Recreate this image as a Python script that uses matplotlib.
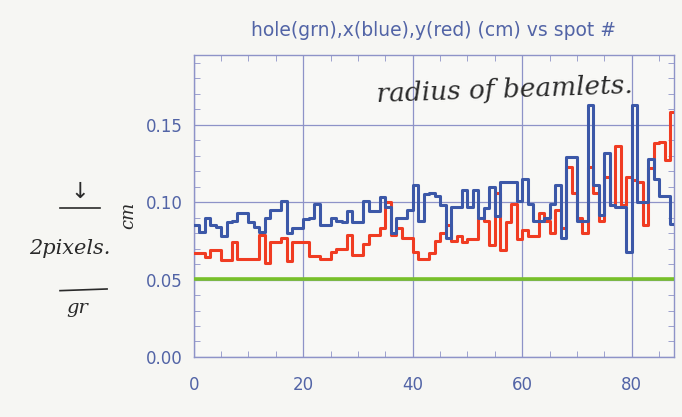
import matplotlib
matplotlib.use("Agg")
import matplotlib.pyplot as plt
import numpy as np
from matplotlib.ticker import MultipleLocator

title = "hole(grn),x(blue),y(red) (cm) vs spot #"
x_ticks = [0, 20, 40, 60, 80]
y_ticks = [0.00, 0.05, 0.10, 0.15]
y_tick_labels = ["0.00", "0.05", "0.10", "0.15"]

blue_x = [0.085, 0.081, 0.090, 0.085, 0.084, 0.078, 0.087, 0.088, 0.093, 0.093,
          0.087, 0.084, 0.081, 0.090, 0.095, 0.095, 0.101, 0.080, 0.083, 0.083,
          0.089, 0.090, 0.099, 0.085, 0.085, 0.090, 0.088, 0.087, 0.094, 0.087,
          0.087, 0.101, 0.094, 0.094, 0.103, 0.097, 0.080, 0.090, 0.090, 0.095,
          0.111, 0.088, 0.105, 0.106, 0.104, 0.098, 0.077, 0.097, 0.097, 0.108,
          0.097, 0.108, 0.090, 0.096, 0.110, 0.091, 0.113, 0.113, 0.113, 0.101,
          0.115, 0.099, 0.088, 0.088, 0.090, 0.099, 0.111, 0.077, 0.129, 0.129,
          0.088, 0.088, 0.163, 0.111, 0.092, 0.132, 0.098, 0.097, 0.097, 0.068,
          0.163, 0.100, 0.100, 0.128, 0.115, 0.104, 0.104, 0.086]

red_y = [0.067, 0.067, 0.0646, 0.069, 0.069, 0.0625, 0.0625, 0.074, 0.063, 0.063,
         0.063, 0.063, 0.0786, 0.061, 0.074, 0.074, 0.077, 0.062, 0.074, 0.074,
         0.074, 0.065, 0.065, 0.063, 0.063, 0.068, 0.070, 0.070, 0.0786, 0.066,
         0.066, 0.073, 0.079, 0.079, 0.083, 0.100, 0.079, 0.083, 0.077, 0.077,
         0.068, 0.063, 0.063, 0.067, 0.075, 0.080, 0.085, 0.075, 0.078, 0.074,
         0.076, 0.076, 0.0896, 0.088, 0.072, 0.106, 0.069, 0.087, 0.099, 0.076,
         0.082, 0.078, 0.078, 0.093, 0.088, 0.080, 0.095, 0.083, 0.123, 0.106,
         0.090, 0.080, 0.123, 0.106, 0.088, 0.116, 0.098, 0.136, 0.098, 0.116,
         0.114, 0.113, 0.085, 0.122, 0.138, 0.139, 0.127, 0.158]

hole_val = 0.0505

n = len(blue_x)
spots = np.arange(n + 1)
bx = np.append(blue_x, blue_x[-1])
ry = np.append(red_y, red_y[-1])
gy = np.full(n + 1, hole_val)

bg = "#f6f6f3"
fig = plt.figure(figsize=(6.82, 4.17), dpi=100, facecolor=bg)
ax = fig.add_axes([0.284, 0.144, 0.705, 0.724])
ax.set_facecolor("#f8f8f6")

grid_c = "#8e93c8"
tick_c = "#5264a6"
ax.grid(True, which="major", color=grid_c, lw=0.9)
ax.set_axisbelow(True)

ax.step(spots, gy, where="post", color="#78c02a", lw=2.6, zorder=3)
ax.step(spots, ry, where="post", color="#f03c22", lw=2.2, zorder=4)
ax.step(spots, bx, where="post", color="#3c58a8", lw=2.2, zorder=5)

ax.set_xlim(0, 87.8)
ax.set_ylim(0, 0.195)
ax.set_xticks(x_ticks)
ax.set_yticks(y_ticks)
ax.set_yticklabels(y_tick_labels)
ax.xaxis.set_minor_locator(MultipleLocator(5))
ax.yaxis.set_minor_locator(MultipleLocator(0.01))
ax.tick_params(which="both", direction="in", top=True, right=True, colors=grid_c,
               labelcolor=tick_c, labelsize=12)
ax.tick_params(which="major", length=0)
ax.tick_params(which="minor", length=4)
ax.tick_params(axis="x", which="major", pad=14)
ax.tick_params(axis="y", which="major", pad=8)
for s in ax.spines.values():
    s.set_color(grid_c)
    s.set_linewidth(1.0)

fig.text(0.636, 0.928, title, ha="center", va="center", color=tick_c, fontsize=13.5)

# handwritten annotations
hand = "#2a2a2a"
fig.text(0.74, 0.785, "radius of beamlets.", ha="center", va="center", color=hand,
         fontsize=19, style="italic", rotation=2, family="DejaVu Serif")
fig.text(0.103, 0.405, "2pixels.", ha="center", va="center", color=hand,
         fontsize=15, style="italic", family="DejaVu Serif")
fig.text(0.188, 0.484, "cm", ha="center", va="center", color=hand,
         fontsize=13, style="italic", rotation=90, family="DejaVu Serif")
fig.text(0.117, 0.54, "↓", ha="center", va="center", color=hand, fontsize=16)
fig.text(0.113, 0.262, "gr", ha="center", va="center", color=hand,
         fontsize=14, style="italic", family="DejaVu Serif")
fig.add_artist(plt.Line2D([0.088, 0.147], [0.501, 0.501], color=hand, lw=1.2))
fig.add_artist(plt.Line2D([0.088, 0.157], [0.303, 0.307], color=hand, lw=1.2))

fig.savefig("out.png", dpi=100, facecolor=bg)
